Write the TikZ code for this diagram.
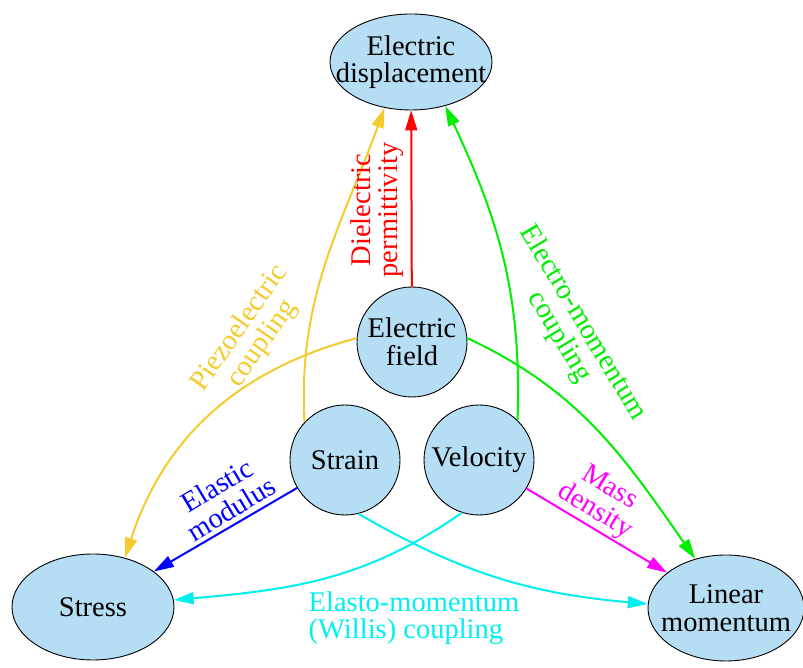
\documentclass[tikz,border=0pt]{standalone}
\usepackage{fontspec}
\setmainfont{Liberation Serif}
\usetikzlibrary{shapes.geometric,arrows.meta}
\definecolor{qfill}{HTML}{B5DDF3}
\definecolor{piezo}{HTML}{F3CB2C}
\definecolor{emgreen}{HTML}{00EE00}
\definecolor{willis}{HTML}{00F0F0}
\definecolor{massmag}{HTML}{FF00FF}

\begin{document}
\begin{tikzpicture}[x=1pt, y=1pt,
        every node/.style={font=\fontsize{28.5}{27.5}\selectfont, align=center},
        quantity/.style={draw=black, line width=0.9pt, fill=qfill, inner sep=0pt},
        link/.style={line width=2pt, -{Triangle[length=20pt, width=12pt]}}]
    \useasboundingbox (0,0) rectangle (803,668);
    % quantities
    \node[quantity, ellipse, minimum width=162pt, minimum height=96pt,
        label={center:Electric\\displacement}] (disp) at (411,606) {};
    \node[quantity, circle, minimum size=110pt, label={center:Electric\\field}] (field) at (412,326) {};
    \node[quantity, circle, minimum size=110pt, label={center:Strain}] (strain) at (345,208) {};
    \node[quantity, circle, minimum size=110pt, label={center:Velocity}] (vel) at (479,208) {};
    \node[quantity, ellipse, minimum width=162pt, minimum height=106pt,
        label={center:Stress}] (stress) at (93,61) {};
    \node[quantity, ellipse, minimum width=156pt, minimum height=106pt,
        label={center:Linear\\momentum}] (mom) at (726,60) {};
    % couplings
    \draw[link, red] (field) -- (disp);
    \draw[link, piezo] (strain.137) to[out=93, in=250] (disp.240);
    \draw[link, piezo] (field.176) to[out=195, in=72] (stress.57);
    \draw[link, emgreen] (vel.46) to[out=88, in=295] (disp.308);
    \draw[link, emgreen] (field.4) to[out=-25, in=125] (mom.122);
    \draw[link, blue] (strain) -- (stress);
    \draw[link, massmag] (vel) -- (mom);
    \draw[link, willis] (vel.252) to[out=215, in=5] (stress.5);
    \draw[link, willis] (strain.284) to[out=-30, in=175] (mom.177);
    % labels
    \node[red, rotate=90] (permlab) at (377,458) {Dielectric\\permittivity};
    \node[piezo, rotate=55] (piezolab) at (251,332) {Piezoelectric\\coupling};
    \node[emgreen, rotate=-59] (emlab) at (571,338) {Electro-momentum\\coupling};
    \node[blue, rotate=31] (elalab) at (224,171) {Elastic\\modulus};
    \node[massmag, rotate=-31] (masslab) at (602,168) {Mass\\density};
    \node[willis, align=left] (willislab) at (414,50) {Elasto-momentum\\(Willis) coupling};
\end{tikzpicture}
\end{document}
